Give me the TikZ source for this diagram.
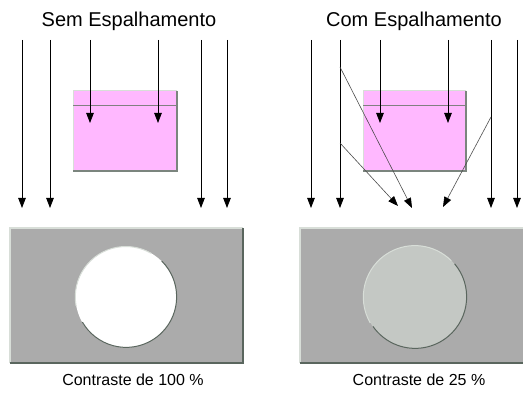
\documentclass[tikz,border=0pt]{standalone}
\usepackage{fontspec}
\setmainfont{Liberation Sans}
\usetikzlibrary{arrows.meta}
\definecolor{pinkfill}{HTML}{FFB8FF}
\definecolor{panelgray}{HTML}{ABABAB}
\definecolor{lightedge}{HTML}{D8DED8}
\definecolor{darkedge}{HTML}{5A665E}
\definecolor{discgray}{HTML}{C4C8C4}
\tikzset{
  ray/.style={draw=black, line width=0.8pt, -{Triangle[width=7.5pt,length=10pt]}},
  sray/.style={draw=black!70, line width=0.6pt, -{Triangle[width=7.5pt,length=10pt,color=black]}},
  title/.style={font=\fontsize{20}{23}\selectfont, anchor=base},
  caption/.style={font=\fontsize{16}{19}\selectfont, anchor=base},
}
\begin{document}
\begin{tikzpicture}[x=1pt,y=-1pt]
\useasboundingbox (0,0) rectangle (523,393);
\clip (0,0) rectangle (523,393);
% titles
\node[title] (t1) at (129,27) {Sem Espalhamento};
\node[title] (t2) at (414,27) {Com Espalhamento};
% pink objects
\coordinate (p1a) at (73,91); \coordinate (p1b) at (177,171);
\fill[pinkfill] (p1a) rectangle (p1b);
\draw[lightedge, line width=1pt] (73,171) -- (73,91) -- (177,91);
\draw[darkedge!80, line width=1.2pt] (177,91) -- (177,171) -- (73,171);
\draw[gray, line width=0.8pt] (73,105) -- (177,105);
\coordinate (p2a) at (363,91); \coordinate (p2b) at (466,171);
\fill[pinkfill] (p2a) rectangle (p2b);
\draw[lightedge, line width=1pt] (363,171) -- (363,91) -- (466,91);
\draw[darkedge!80, line width=1.2pt] (466,91) -- (466,171) -- (363,171);
\draw[gray, line width=0.8pt] (363,105) -- (466,105);
% left rays
\foreach \n/\x in {a/22,b/50,c/201,d/227}{
  \coordinate (L\n s) at (\x,40); \coordinate (L\n e) at (\x,208);
  \draw[ray] (L\n s) -- (L\n e);
}
\foreach \n/\x in {e/90,f/158}{
  \coordinate (L\n s) at (\x,40); \coordinate (L\n e) at (\x,123);
  \draw[ray] (L\n s) -- (L\n e);
}
% right rays
\foreach \n/\x in {a/311,b/340,c/491,d/517}{
  \coordinate (R\n s) at (\x,40); \coordinate (R\n e) at (\x,208);
  \draw[ray] (R\n s) -- (R\n e);
}
\foreach \n/\x in {e/380,f/448}{
  \coordinate (R\n s) at (\x,40); \coordinate (R\n e) at (\x,123);
  \draw[ray] (R\n s) -- (R\n e);
}
% scattered rays
\coordinate (s1) at (340,67);  \coordinate (e1) at (412,208);
\coordinate (s2) at (340,143); \coordinate (e2) at (398,206);
\coordinate (s3) at (491,117); \coordinate (e3) at (443,207);
\draw[sray] (s1) -- (e1);
\draw[sray] (s2) -- (e2);
\draw[sray] (s3) -- (e3);
% bottom panels
\fill[panelgray] (10,228) rectangle (243,363);
\draw[lightedge, line width=1.2pt] (10,363) -- (10,228) -- (243,228);
\draw[darkedge, line width=1.4pt] (243,228) -- (243,363) -- (10,363);
\fill[panelgray] (300,228) rectangle (530,363);
\draw[lightedge, line width=1.2pt] (300,363) -- (300,228) -- (530,228);
\draw[darkedge, line width=1.4pt] (530,363) -- (300,363);
% discs
\node[circle, fill=white, minimum size=101pt, inner sep=0pt] (c1) at (126,297) {};
\draw[lightedge, line width=1pt] (c1.190) arc[start angle=190, end angle=60, radius=50.5pt];
\draw[darkedge, line width=1pt] (c1.45) arc[start angle=45, end angle=-150, radius=50.5pt];
\node[circle, fill=discgray, minimum size=103pt, inner sep=0pt] (c2) at (415,297) {};
\draw[lightedge, line width=1pt] (c2.210) arc[start angle=210, end angle=45, radius=51.5pt];
\draw[darkedge, line width=1pt] (c2.40) arc[start angle=40, end angle=-145, radius=51.5pt];
% captions
\node[caption] (k1) at (133,385) {Contraste de 100 \%};
\node[caption] (k2) at (419,385) {Contraste de 25 \%};
\end{tikzpicture}
\end{document}
